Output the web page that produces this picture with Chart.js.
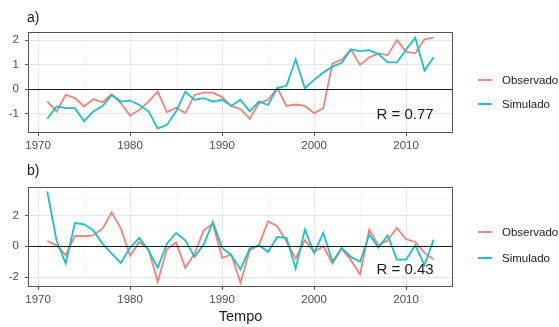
<!DOCTYPE html>
<html>
<head>
<meta charset="utf-8">
<script src="https://cdn.jsdelivr.net/npm/chart.js@4.4.1/dist/chart.umd.min.js"></script>
<style>
  body { margin: 0; background: #fff; font-family: "Liberation Sans", Arial, sans-serif; }
  #wrap { position: relative; width: 559px; height: 327px; overflow: hidden; }
  canvas { position: absolute; left: 0; }
  .tag { position: absolute; left: 27px; font-size: 14px; color: #1a1a1a; line-height: 16px; }
  .key { position: absolute; left: 478px; font-size: 11.5px; color: #1a1a1a; line-height: 14px; white-space: nowrap; }
  .key span { display: inline-block; width: 14px; height: 2px; vertical-align: middle; margin-right: 10px; position: relative; top: -1px; }
</style>
</head>
<body>
<div id="wrap">
  <canvas id="chartA" width="559" height="160" style="top:0"></canvas>
  <canvas id="chartB" width="559" height="167" style="top:160px"></canvas>
  <div class="tag" style="top:9px">a)</div>
  <div class="tag" style="top:162px">b)</div>
  <div class="key" style="top:73px"><span style="background:#F0837A"></span>Observado</div>
  <div class="key" style="top:97px"><span style="background:#1FBFC2"></span>Simulado</div>
  <div class="key" style="top:225px"><span style="background:#F0837A"></span>Observado</div>
  <div class="key" style="top:251px"><span style="background:#1FBFC2"></span>Simulado</div>
</div>
<script>
// anos
const years = [1971,1972,1973,1974,1975,1976,1977,1978,1979,1980,
               1981,1982,1983,1984,1985,1986,1987,1988,1989,1990,
               1991,1992,1993,1994,1995,1996,1997,1998,1999,2000,
               2001,2002,2003,2004,2005,2006,2007,2008,2009,2010,
               2011,2012,2013];

// painel a)
const obsA = [-0.5,-0.9,-0.23,-0.36,-0.7,-0.4,-0.53,-0.2,-0.57,-1.07,
              -0.84,-0.5,-0.1,-0.93,-0.75,-0.97,-0.23,-0.14,-0.14,-0.32,
              -0.68,-0.81,-1.2,-0.57,-0.43,0.05,-0.68,-0.62,-0.68,-0.97,
              -0.77,1.05,1.2,1.62,0.99,1.3,1.46,1.39,2.0,1.53,
              1.46,2.03,2.1];
const simA = [-1.2,-0.7,-0.77,-0.77,-1.3,-0.9,-0.68,-0.23,-0.5,-0.46,
              -0.64,-0.9,-1.6,-1.45,-0.9,-0.1,-0.43,-0.36,-0.5,-0.43,
              -0.68,-0.43,-0.9,-0.5,-0.64,0.05,0.14,1.22,0.04,0.38,
              0.68,0.92,1.08,1.62,1.55,1.59,1.43,1.09,1.09,1.62,
              2.1,0.76,1.3];

// painel b)
const obsB = [0.34,0.06,-0.58,0.67,0.65,0.71,1.14,2.2,1.14,-0.62,
              0.28,-0.2,-2.3,-0.2,0.24,-1.4,-0.47,1.03,1.46,-0.75,
              -0.54,-2.37,-0.26,0.06,1.62,1.3,0.3,-0.8,0.39,-0.37,
              0.0,-1.12,-0.15,-0.9,-1.83,1.08,0.06,0.39,1.18,0.45,
              0.28,-0.43,-0.86];
const simB = [3.55,0.39,-1.12,1.5,1.42,1.03,0.17,-0.47,-1.08,-0.09,
              0.54,-0.26,-1.4,0.17,0.86,0.39,-0.69,0.11,1.57,-0.09,
              -0.58,-1.5,-0.15,0.06,-0.37,0.6,0.54,-1.45,1.08,-0.43,
              0.86,-1.0,-0.1,-0.69,-1.0,0.77,-0.09,0.71,-0.86,-0.86,
              0.06,-1.23,0.43];

const xTicks = [1970,1975,1980,1985,1990,1995,2000,2005,2010];
const xLabels = [1970,1980,1990,2000,2010];
const yTicksA = [-1.5,-1,-0.5,0,0.5,1,1.5,2];
const yLabelsA = [-1,0,1,2];
const yTicksB = [-2,-1,0,1,2,3];
const yLabelsB = [-2,0,2];

const RED = '#F0837A';
const TEAL = '#1FBFC2';
const FONT = '"Liberation Sans", Arial, sans-serif';

const pts = vals => vals.map((v, i) => ({x: years[i], y: v}));

const panelDecor = {
  id: 'panelDecor',
  afterDatasetsDraw(chart, args, opts) {
    const {ctx, chartArea: a, scales: {x, y}} = chart;
    ctx.save();
    const y0 = Math.round(y.getPixelForValue(0)) + 0.5;
    ctx.strokeStyle = '#1a1a1a';
    ctx.lineWidth = 1.2;
    ctx.beginPath();
    ctx.moveTo(a.left, y0);
    ctx.lineTo(a.right, y0);
    ctx.stroke();
    ctx.font = '15px ' + FONT;
    ctx.fillStyle = '#1a1a1a';
    ctx.textAlign = 'right';
    ctx.textBaseline = 'middle';
    ctx.fillText(opts.label, x.getPixelForValue(2013), y.getPixelForValue(opts.labelAt));
    ctx.strokeStyle = '#555';
    ctx.lineWidth = 1;
    ctx.strokeRect(a.left + 0.5, a.top + 0.5, a.right - a.left - 1, a.bottom - a.top - 1);
    ctx.restore();
  }
};

function makePanel(id, obs, sim, yMin, yMax, yTicks, yLabels, rLabel, rAt, padTop, xHeight, withTitle) {
  new Chart(document.getElementById(id), {
    type: 'line',
    data: {
      datasets: [
        { label: 'Simulado', data: pts(sim), borderColor: TEAL, borderWidth: 1.8, pointRadius: 0, tension: 0 },
        { label: 'Observado', data: pts(obs), borderColor: RED, borderWidth: 1.8, pointRadius: 0, tension: 0 }
      ]
    },
    options: {
      responsive: false,
      animation: false,
      layout: { padding: { top: padTop, right: 106, left: 0, bottom: 0 }, autoPadding: false },
      plugins: {
        legend: { display: false },
        tooltip: { enabled: false },
        panelDecor: { label: rLabel, labelAt: rAt }
      },
      scales: {
        x: {
          type: 'linear',
          min: 1968.9,
          max: 2015.1,
          afterBuildTicks: s => { s.ticks = xTicks.map(v => ({value: v})); },
          afterFit: s => { s.height = xHeight; },
          border: { display: false },
          grid: {
            color: c => xLabels.includes(c.tick && c.tick.value) ? '#e6e6e6' : '#f2f2f2',
            lineWidth: c => xLabels.includes(c.tick && c.tick.value) ? 1 : 0.7,
            tickLength: 3,
            tickColor: c => xLabels.includes(c.tick && c.tick.value) ? '#555' : 'rgba(0,0,0,0)'
          },
          ticks: {
            autoSkip: false,
            maxRotation: 0,
            padding: 3,
            color: '#4d4d4d',
            font: { family: FONT, size: 11.5 },
            callback: v => xLabels.includes(v) ? String(v) : ''
          },
          title: {
            display: withTitle,
            text: 'Tempo',
            color: '#1a1a1a',
            font: { family: FONT, size: 14.5 },
            padding: { top: 0, bottom: 1 }
          }
        },
        y: {
          min: yMin,
          max: yMax,
          afterBuildTicks: s => { s.ticks = yTicks.map(v => ({value: v})); },
          afterFit: s => { s.width = 28; },
          border: { display: false },
          grid: {
            color: c => yLabels.includes(c.tick && c.tick.value) ? '#e6e6e6' : '#f2f2f2',
            lineWidth: c => yLabels.includes(c.tick && c.tick.value) ? 1 : 0.7,
            tickLength: 3,
            tickColor: c => yLabels.includes(c.tick && c.tick.value) ? '#555' : 'rgba(0,0,0,0)'
          },
          ticks: {
            autoSkip: false,
            padding: 6,
            color: '#4d4d4d',
            font: { family: FONT, size: 11.5 },
            callback: v => yLabels.includes(v) ? String(v) : ''
          }
        }
      }
    },
    plugins: [panelDecor]
  });
}

makePanel('chartA', obsA, simA, -1.78, 2.33, yTicksA, yLabelsA, 'R = 0.77', -1.05, 32, 27, false);
makePanel('chartB', obsB, simB, -2.64, 3.84, yTicksB, yLabelsB, 'R = 0.43', -1.56, 27, 40, true);
</script>
</body>
</html>
